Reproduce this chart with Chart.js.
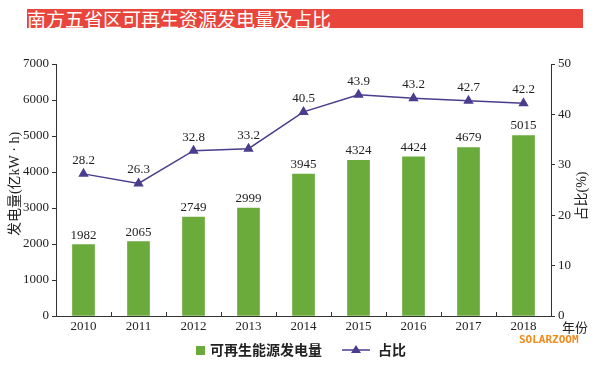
<!DOCTYPE html>
<html>
<head>
<meta charset="utf-8">
<script src="https://cdn.jsdelivr.net/npm/chart.js@4"></script>
<style>
  html, body { margin: 0; padding: 0; background: #fff; }
  #wrap { position: relative; width: 600px; height: 368px; }
  #title {
    position: absolute; left: 27px; top: 9px; width: 556px; height: 19px;
    background: #e8453c; color: #fff;
    font: 19px "Noto Sans CJK SC", sans-serif; line-height: 19px;
    white-space: nowrap; overflow: hidden;
  }
  #mark {
    position: absolute; left: 519px; top: 333px;
    color: #f08a1c; font: bold 11px "DejaVu Sans Mono", monospace;
  }
</style>
</head>
<body>
<div id="wrap">
  <canvas id="chart" width="600" height="368"></canvas>
  <div id="title">南方五省区可再生资源发电量及占比</div>
  <div id="mark">SOLARZOOM</div>
</div>
<script>
const years = ["2010","2011","2012","2013","2014","2015","2016","2017","2018"];
const power = [1982, 2065, 2749, 2999, 3945, 4324, 4424, 4679, 5015];
const share = [28.2, 26.3, 32.8, 33.2, 40.5, 43.9, 43.2, 42.7, 42.2];
const seriesNames = ["可再生能源发电量", "占比"];

const green = "#6aab3c";
const purple = "#4b3c8e";
const ink = "#222";
const serif = "'Liberation Serif', 'Noto Sans CJK SC', serif";
const cjk = "'Noto Sans CJK SC', sans-serif";

// value labels above bars and points
const valueLabels = {
  id: "valueLabels",
  afterDatasetsDraw(chart){
    const ctx = chart.ctx;
    ctx.save();
    ctx.fillStyle = ink;
    ctx.font = "13px " + serif;
    ctx.textAlign = "center";
    ctx.textBaseline = "bottom";
    chart.getDatasetMeta(1).data.forEach((b, i) => {
      ctx.fillText(power[i], b.x, b.y - 3);
    });
    chart.getDatasetMeta(0).data.forEach((p, i) => {
      ctx.fillText(share[i].toFixed(1), p.x, p.y - 7);
    });
    ctx.restore();
  }
};

// axis titles, inner x ticks, 年份, legend
const extras = {
  id: "extras",
  afterDraw(chart){
    const ctx = chart.ctx;
    const a = chart.chartArea;
    const x = chart.scales.x;
    ctx.save();
    ctx.strokeStyle = "#333";
    ctx.lineWidth = 1;
    for (let i = 1; i < years.length; i++){
      const px = Math.round(x.getPixelForValue(i - 0.5)) + 0.5;
      ctx.beginPath();
      ctx.moveTo(px, a.bottom);
      ctx.lineTo(px, a.bottom - 4);
      ctx.stroke();
    }
    ctx.fillStyle = ink;
    ctx.font = "14px " + serif;
    ctx.textAlign = "center";
    ctx.textBaseline = "middle";
    ctx.save();
    ctx.translate(15, 184);
    ctx.rotate(-Math.PI / 2);
    ctx.fillText("发电量(亿kW · h)", 0, 0);
    ctx.restore();
    ctx.save();
    ctx.translate(582, 196);
    ctx.rotate(-Math.PI / 2);
    ctx.fillText("占比(%)", 0, 0);
    ctx.restore();
    ctx.font = "13px " + cjk;
    ctx.fillText("年份", 575, a.bottom + 11);

    // legend
    const ly = 350;
    ctx.textAlign = "left";
    ctx.font = "bold 14px " + cjk;
    ctx.fillStyle = green;
    ctx.fillRect(196, ly - 4, 9, 9);
    ctx.fillStyle = ink;
    ctx.fillText(seriesNames[0], 210, ly);
    ctx.strokeStyle = purple;
    ctx.lineWidth = 1.5;
    ctx.beginPath();
    ctx.moveTo(342, ly);
    ctx.lineTo(370, ly);
    ctx.stroke();
    ctx.fillStyle = purple;
    ctx.beginPath();
    ctx.moveTo(356, ly - 5);
    ctx.lineTo(361, ly + 3);
    ctx.lineTo(351, ly + 3);
    ctx.closePath();
    ctx.fill();
    ctx.fillStyle = ink;
    ctx.fillText(seriesNames[1], 378, ly);
    ctx.restore();
  }
};

new Chart(document.getElementById("chart"), {
  data: {
    labels: years,
    datasets: [
      {
        type: "line",
        label: seriesNames[1],
        data: share,
        yAxisID: "y1",
        borderColor: purple,
        backgroundColor: purple,
        borderWidth: 1.5,
        pointStyle: "triangle",
        pointRadius: 4.5,
        pointBackgroundColor: purple,
        order: 0
      },
      {
        type: "bar",
        label: seriesNames[0],
        data: power,
        yAxisID: "y",
        backgroundColor: green,
        barThickness: 22,
        order: 1
      }
    ]
  },
  options: {
    responsive: false,
    animation: false,
    layout: { padding: { top: 64, right: 0, left: 0, bottom: 0 } },
    plugins: {
      legend: { display: false },
      tooltip: { enabled: false }
    },
    scales: {
      x: {
        offset: true,
        grid: { display: false, drawTicks: false, tickLength: 0 },
        border: { color: "#333", width: 1 },
        ticks: { color: ink, font: { size: 13, family: serif }, padding: 3 },
        afterFit(s){ s.height = 52; }
      },
      y: {
        position: "left",
        min: 0, max: 7000,
        ticks: { stepSize: 1000, color: ink, font: { size: 13, family: serif }, padding: 3, callback: v => String(v) },
        grid: { drawOnChartArea: false, drawTicks: true, tickLength: 4, color: "#333" },
        border: { color: "#333", width: 1 },
        afterFit(s){ s.width = 56; }
      },
      y1: {
        position: "right",
        min: 0, max: 50,
        ticks: { stepSize: 10, color: ink, font: { size: 13, family: serif }, padding: 3 },
        grid: { drawOnChartArea: false, drawTicks: true, tickLength: 4, color: "#333" },
        border: { color: "#333", width: 1 },
        afterFit(s){ s.width = 49; }
      }
    }
  },
  plugins: [valueLabels, extras]
});
</script>
</body>
</html>
